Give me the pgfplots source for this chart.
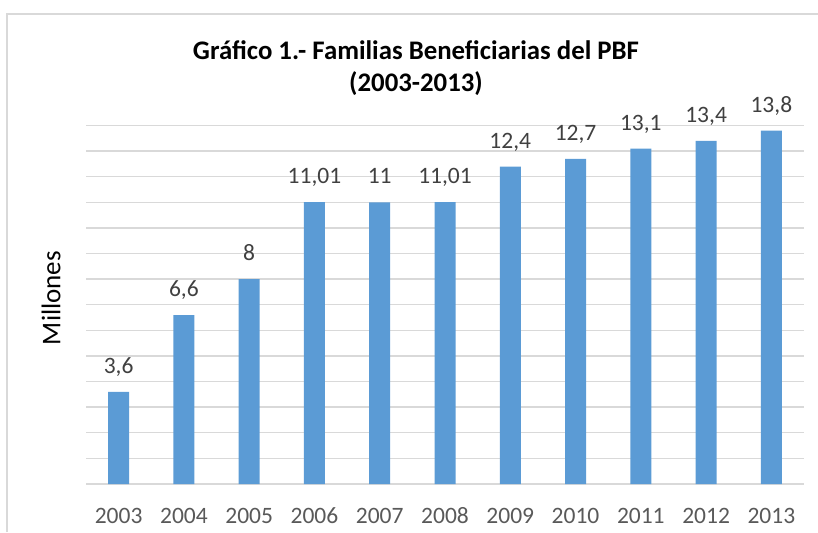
\documentclass[border=0pt]{standalone}
\usepackage{pgfplots}
\pgfplotsset{compat=1.18}
\usepackage{fontspec}
\setmainfont{Carlito}
\definecolor{barblue}{HTML}{5B9BD5}
\definecolor{gridgray}{HTML}{D9D9D9}
\definecolor{txtgray}{HTML}{595959}
\definecolor{lblgray}{HTML}{404040}
\begin{document}
\begin{tikzpicture}[x=1pt,y=1pt]
\path[use as bounding box] (0,0) rectangle (818,532);
\draw[gridgray, line width=1.2pt] (7,0) -- (7,518) -- (818,518);
\begin{axis}[
  at={(86pt,48pt)}, anchor=south west,
  scale only axis, width=718pt, height=358.4pt,
  xmin=-0.5, xmax=10.5, ymin=0, ymax=14,
  axis line style={draw=none},
  axis x line*=bottom,
  ytick={0,1,...,14}, yticklabels={},
  ymajorgrids, grid style={gridgray, line width=1.4pt},
  major tick length=0pt,
  xtick={0,...,10},
  xticklabels={2003,2004,2005,2006,2007,2008,2009,2010,2011,2012,2013},
  xticklabel style={font=\fontsize{23.5}{27}\selectfont, text=txtgray, anchor=base, yshift=-39pt},
  /pgf/number format/assume math mode=true,
  clip=false,
]
\addplot[ybar, bar width=21pt, fill=barblue, draw=none,
  point meta=explicit symbolic,
  nodes near coords,
  nodes near coords style={font=\fontsize{23.5}{27}\selectfont, text=lblgray, anchor=base, yshift=18.5pt, inner sep=0pt},
] table[meta=label] {
x y label
0 3.6 3,6
1 6.6 6,6
2 8 8
3 11.01 11,01
4 11 11
5 11.01 11,01
6 12.4 12,4
7 12.7 12,7
8 13.1 13,1
9 13.4 13,4
10 13.8 13,8
};
\end{axis}
\node[font=\fontsize{26.8}{32}\selectfont\bfseries, anchor=base] at (416,472) {Gráfico 1.- Familias Beneficiarias del PBF};
\node[font=\fontsize{26.8}{32}\selectfont\bfseries, anchor=base] at (416,440) {(2003-2013)};
\node[font=\fontsize{27}{30}\selectfont, rotate=90, text=black] at (51,234) {Millones};
\end{tikzpicture}
\end{document}
